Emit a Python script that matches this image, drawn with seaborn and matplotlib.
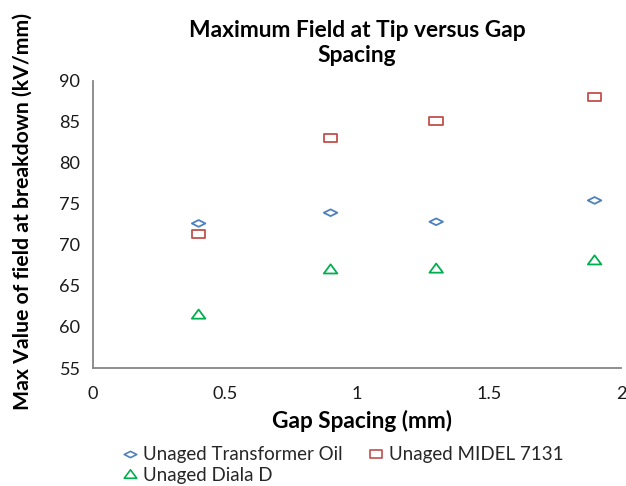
import numpy as np
import pandas as pd
import matplotlib
matplotlib.use("Agg")
import matplotlib.pyplot as plt
from matplotlib.path import Path
from matplotlib.lines import Line2D
import seaborn as sns

# Gap spacing (mm) and maximum tip field at breakdown (kV/mm)
gap_mm = [0.4, 0.9, 1.3, 1.9]
transformer_oil = [72.6, 73.9, 72.8, 75.4]
midel_7131 = [71.3, 83.0, 85.1, 88.0]
diala_d = [61.5, 67.0, 67.1, 68.1]

series_names = ["Unaged Transformer Oil", "Unaged MIDEL 7131", "Unaged Diala D"]
series_values = [transformer_oil, midel_7131, diala_d]
series_colors = ["#4F81BD", "#C0504D", "#00B050"]

x_ticks = [0, 0.5, 1, 1.5, 2]
x_tick_labels = ["0", "0.5", "1", "1.5", "2"]
y_ticks = [55, 60, 65, 70, 75, 80, 85, 90]

rows = []
for name, vals in zip(series_names, series_values):
    for g, v in zip(gap_mm, vals):
        rows.append({"gap": g, "field": v, "series": name})
df = pd.DataFrame(rows)

sns.set_theme(style="white")
plt.rcParams["font.family"] = ["Lato", "DejaVu Sans"]

W, H = 626, 486

# Flattened hollow marker shapes
diamond = Path([(-1.0, 0.0), (0.0, 0.5), (1.0, 0.0), (0.0, -0.5), (-1.0, 0.0)], closed=True)
rect = Path([(-1.0, -0.62), (1.0, -0.62), (1.0, 0.62), (-1.0, 0.62), (-1.0, -0.62)], closed=True)
tri = Path([(-1.0, -0.6), (1.0, -0.6), (0.0, 0.75), (-1.0, -0.6)], closed=True)
marker_map = dict(zip(series_names, [diamond, rect, tri]))

fig = plt.figure(figsize=(W / 100, H / 100), dpi=100)
ax = fig.add_axes([93 / W, 1 - 368 / H, 528 / W, 287.5 / H])
renderer = fig.canvas.get_renderer()


def size_for_width(text, target_px, weight="normal", base=12.0, vertical=False):
    """Font size at which `text` spans target_px pixels."""
    t = fig.text(0, 0, text, fontsize=base, fontweight=weight,
                 rotation=90 if vertical else 0)
    bb = t.get_window_extent(renderer)
    t.remove()
    span = bb.height if vertical else bb.width
    return base * target_px / span


for name, color in zip(series_names, series_colors):
    sub = df[df["series"] == name]
    sns.scatterplot(data=sub, x="gap", y="field", ax=ax, marker=marker_map[name],
                    s=95, facecolor="none", edgecolor=color, linewidth=1.3,
                    legend=False)

ax.set_xlim(0, 2)
ax.set_ylim(55, 90)
ax.set_xticks(x_ticks)
ax.set_xticklabels(x_tick_labels)
ax.set_yticks(y_ticks)

for side in ["top", "right"]:
    ax.spines[side].set_visible(False)
for side in ["left", "bottom"]:
    ax.spines[side].set_color("#868686")
    ax.spines[side].set_linewidth(1.3)

tick_fs = size_for_width("90", 21)
ax.tick_params(axis="both", direction="out", length=5, width=1.2, color="#868686",
               labelsize=tick_fs, labelcolor="#1a1a1a")
ax.tick_params(axis="y", pad=4)
ax.tick_params(axis="x", pad=8)

xl_fs = size_for_width("Gap Spacing (mm)", 179, weight="bold")
yl_fs = size_for_width("Max Value of field at breakdown (kV/mm)", 395, weight="bold", vertical=True)
ax.set_xlabel("Gap Spacing (mm)", fontsize=xl_fs, fontweight="bold", color="black")
ax.set_ylabel("Max Value of field at breakdown (kV/mm)", fontsize=yl_fs, fontweight="bold", color="black")
ax.xaxis.label.set(va="center", ha="center")
ax.yaxis.label.set(va="center", ha="center")
ax.xaxis.set_label_coords((362 - 93) / 528, (368 - 421) / 287.5)
ax.yaxis.set_label_coords((23 - 93) / 528, (368 - 212) / 287.5)

# Two-line bold title
title_fs = size_for_width("Maximum Field at Tip versus Gap", 335, weight="bold")
fig.text(357 / W, 1 - 30 / H, "Maximum Field at Tip versus Gap", ha="center", va="center",
         fontsize=title_fs, fontweight="bold", color="black")
fig.text(357 / W, 1 - 56 / H, "Spacing", ha="center", va="center",
         fontsize=title_fs, fontweight="bold", color="black")

# Legend: two columns, third entry wraps to the second row
leg_fs = size_for_width("Unaged MIDEL 7131", 173)
handles = [Line2D([], [], linestyle="none", marker=marker_map[n], markersize=9,
                  markerfacecolor="none", markeredgecolor=c, markeredgewidth=1.2)
           for n, c in zip(series_names, series_colors)]
order = [0, 2, 1]
fig.legend([handles[i] for i in order], [series_names[i] for i in order],
           loc="center left", bbox_to_anchor=(123.5 / W, 1 - 465 / H), ncol=2,
           frameon=False, fontsize=leg_fs, handlelength=0.7, handletextpad=0.35,
           columnspacing=1.4, labelspacing=0.2, borderpad=0, borderaxespad=0)

fig.savefig("out.png", dpi=100)
